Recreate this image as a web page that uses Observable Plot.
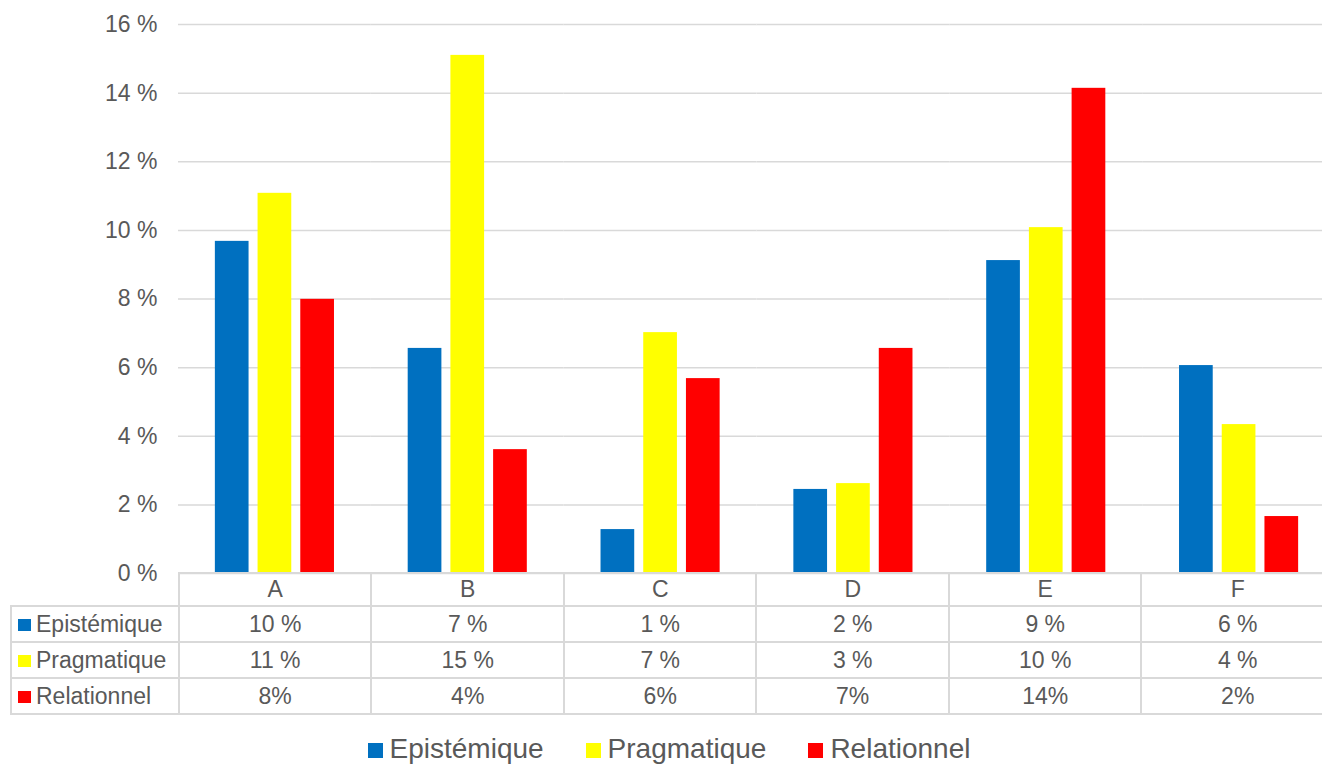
<!DOCTYPE html>
<html>
<head>
<meta charset="utf-8">
<script src="https://cdn.jsdelivr.net/npm/d3@7"></script>
<script src="https://cdn.jsdelivr.net/npm/@observablehq/plot@0.6"></script>
<style>
  html, body { margin: 0; padding: 0; background: #fff; overflow: hidden; }
  body { font-family: "Liberation Sans", Arial, sans-serif; color: #595959; }
  #wrap { position: relative; width: 1335px; height: 767px; }
  #chart { position: absolute; left: 0; top: 0; }
  table { position: absolute; left: 10px; top: 572px; border-collapse: collapse; table-layout: fixed; font-size: 23px; color: #595959; }
  td { border: 2px solid #d9d9d9; text-align: center; padding: 0; height: 34px; white-space: nowrap; }
  td.lab { text-align: left; padding-left: 6px; }
  td.blank { border-top: none; border-left: none; border-bottom: 2px solid #d9d9d9; }
  tr.head td { height: 31px; }
  .sw { display: inline-block; width: 13px; height: 12px; margin-right: 5px; vertical-align: 1px; }
  #legend { position: absolute; top: 733px; left: 0; width: 1338px; text-align: center; font-size: 28px; white-space: nowrap; }
  #legend span.item { margin: 0 21px; }
  #legend .sw { width: 15px; height: 15px; margin-right: 7px; vertical-align: 0px; }
</style>
</head>
<body>
<div id="wrap">
  <div id="chart"></div>
  <table id="tbl"></table>
  <div id="legend"></div>
</div>
<script>
const categories = ["A", "B", "C", "D", "E", "F"];
const seriesNames = ["Epistémique", "Pragmatique", "Relationnel"];
const seriesColors = ["#0070C0", "#FFFF00", "#FF0000"];
const epistemique = [9.68, 6.56, 1.28, 2.45, 9.12, 6.06];
const pragmatique = [11.08, 15.1, 7.02, 2.62, 10.08, 4.34];
const relationnel = [7.99, 3.61, 5.68, 6.56, 14.14, 1.66];
const tableLabels = [
  ["10 %", "7 %", "1 %", "2 %", "9 %", "6 %"],
  ["11 %", "15 %", "7 %", "3 %", "10 %", "4 %"],
  ["8%", "4%", "6%", "7%", "14%", "2%"]
];
const yTicks = [0, 2, 4, 6, 8, 10, 12, 14, 16];

const seriesValues = [epistemique, pragmatique, relationnel];
const data = [];
categories.forEach((c, i) => {
  seriesNames.forEach((s, j) => data.push({cat: c, series: s, value: seriesValues[j][i]}));
});

const chart = Plot.plot({
  width: 1335,
  height: 574,
  marginLeft: 178,
  marginRight: 0,
  marginTop: 24,
  marginBottom: 1,
  style: {fontFamily: "'Liberation Sans', Arial, sans-serif", color: "#595959", background: "transparent", overflow: "visible"},
  fx: {domain: categories, paddingInner: 0, paddingOuter: 0, round: false, axis: null, label: null},
  x: {domain: seriesNames, paddingInner: 0.211, paddingOuter: 0.863, round: false, axis: null, label: null},
  y: {domain: [0, 16], label: null},
  color: {domain: seriesNames, range: seriesColors},
  marks: [
    Plot.gridY(yTicks, {stroke: "#d9d9d9", strokeOpacity: 1, strokeWidth: 1.5}),
    Plot.axisY(yTicks, {tickSize: 0, tickPadding: 21, fontSize: 23, tickFormat: d => d + " %", label: null}),
    Plot.barY(data, {fx: "cat", x: "series", y: "value", fill: "series"})
  ]
});
document.getElementById("chart").appendChild(chart);

// data table
const tbl = document.getElementById("tbl");
const colg = document.createElement("colgroup");
const c0 = document.createElement("col"); c0.style.width = "168px"; colg.appendChild(c0);
categories.forEach(() => { const c = document.createElement("col"); c.style.width = "193px"; colg.appendChild(c); });
tbl.appendChild(colg);
const head = document.createElement("tr"); head.className = "head";
const blank = document.createElement("td"); blank.className = "blank"; head.appendChild(blank);
categories.forEach(c => { const td = document.createElement("td"); td.textContent = c; head.appendChild(td); });
tbl.appendChild(head);
seriesNames.forEach((s, j) => {
  const tr = document.createElement("tr");
  const lab = document.createElement("td"); lab.className = "lab";
  lab.innerHTML = `<span class="sw" style="background:${seriesColors[j]}"></span>${s}`;
  tr.appendChild(lab);
  tableLabels[j].forEach(v => { const td = document.createElement("td"); td.textContent = v; tr.appendChild(td); });
  tbl.appendChild(tr);
});

// legend
const leg = document.getElementById("legend");
seriesNames.forEach((s, j) => {
  const it = document.createElement("span"); it.className = "item";
  it.innerHTML = `<span class="sw" style="background:${seriesColors[j]}"></span>${s}`;
  leg.appendChild(it);
});
</script>
</body>
</html>
